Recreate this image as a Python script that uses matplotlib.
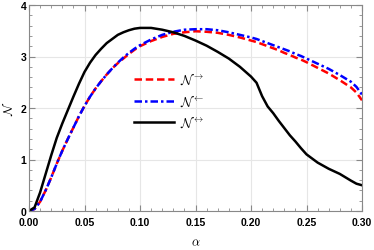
import numpy as np
import matplotlib.pyplot as plt
from matplotlib.ticker import MultipleLocator, FormatStrFormatter

# values
alpha = [0.0, 0.005, 0.01, 0.015, 0.02, 0.025, 0.03, 0.035, 0.04, 0.045, 0.05,
         0.055, 0.06, 0.065, 0.07, 0.075, 0.08, 0.085, 0.09, 0.095, 0.10,
         0.11, 0.12, 0.13, 0.14, 0.15, 0.16, 0.17, 0.18, 0.19, 0.20,
         0.205, 0.21, 0.215, 0.22, 0.225, 0.23, 0.235, 0.24, 0.245, 0.25,
         0.26, 0.27, 0.28, 0.29, 0.295, 0.30]
n_right = [0.0, 0.04, 0.18, 0.40, 0.65, 0.92, 1.17, 1.40, 1.62, 1.84, 2.04,
           2.22, 2.38, 2.52, 2.65, 2.77, 2.87, 2.96, 3.05, 3.13, 3.20,
           3.30, 3.38, 3.44, 3.47, 3.49, 3.48, 3.46, 3.42, 3.37, 3.31,
           3.28, 3.24, 3.20, 3.16, 3.12, 3.07, 3.03, 2.98, 2.94, 2.89,
           2.78, 2.67, 2.54, 2.40, 2.30, 2.15]
n_left = [0.0, 0.04, 0.18, 0.40, 0.65, 0.92, 1.17, 1.40, 1.62, 1.84, 2.04,
          2.22, 2.38, 2.52, 2.65, 2.77, 2.88, 2.98, 3.07, 3.15, 3.22,
          3.33, 3.42, 3.48, 3.52, 3.53, 3.53, 3.51, 3.47, 3.42, 3.37,
          3.34, 3.30, 3.26, 3.22, 3.18, 3.14, 3.10, 3.05, 3.01, 2.96,
          2.86, 2.76, 2.64, 2.51, 2.41, 2.26]
n_both = [0.0, 0.07, 0.36, 0.72, 1.08, 1.42, 1.70, 1.96, 2.22, 2.47, 2.70,
          2.88, 3.03, 3.15, 3.26, 3.34, 3.42, 3.47, 3.51, 3.54, 3.555,
          3.555, 3.52, 3.47, 3.40, 3.31, 3.21, 3.09, 2.96, 2.80, 2.61,
          2.49, 2.23, 2.03, 1.90, 1.75, 1.61, 1.47, 1.35, 1.22, 1.10,
          0.94, 0.82, 0.72, 0.59, 0.53, 0.50]

plt.rcParams['font.family'] = 'Liberation Sans'
plt.rcParams['mathtext.fontset'] = 'cm'

fig = plt.figure(figsize=(3.74, 2.51), dpi=100)
ax = fig.add_axes([29/374, 1 - 212/251, 333/374, 206/251])

ax.plot(alpha, n_right, color='red', lw=1.8, ls=(0, (3, 1.5)), label=r'$\mathcal{N}^{\rightarrow}$')
ax.plot(alpha, n_left, color='blue', lw=1.8, ls=(0, (3, 1.2, 1, 1.2)), label=r'$\mathcal{N}^{\leftarrow}$')
ax.plot(alpha, n_both, color='black', lw=1.8, label=r'$\mathcal{N}^{\leftrightarrow}$')

ax.set_xlim(0, 0.30)
ax.set_ylim(0, 4)
ax.xaxis.set_major_locator(MultipleLocator(0.05))
ax.xaxis.set_minor_locator(MultipleLocator(0.01))
ax.xaxis.set_major_formatter(FormatStrFormatter('%.2f'))
ax.yaxis.set_major_locator(MultipleLocator(1))
ax.yaxis.set_minor_locator(MultipleLocator(0.2))
ax.grid(True, which='major', color='#e6e6e6', lw=0.8)
ax.set_axisbelow(True)
ax.tick_params(which='both', direction='in', top=True, right=True, color='#888888',
               labelsize=7.5, pad=2)
ax.tick_params(axis='x', pad=4)
ax.tick_params(which='major', length=4)
ax.tick_params(which='minor', length=2)
for lab in ax.get_xticklabels() + ax.get_yticklabels():
    lab.set_fontweight('bold')
for s in ax.spines.values():
    s.set_color('#888888')

ax.set_xlabel(r'$\alpha$', fontsize=9, labelpad=7)
ax.set_ylabel(r'$\mathcal{N}$', fontsize=9, labelpad=3)

ax.legend(loc='center left', bbox_to_anchor=(0.28, 0.535), frameon=False, fontsize=9.5,
          handlelength=3.0, labelspacing=0.45, handletextpad=0.5)

fig.savefig('out.png', dpi=100)
